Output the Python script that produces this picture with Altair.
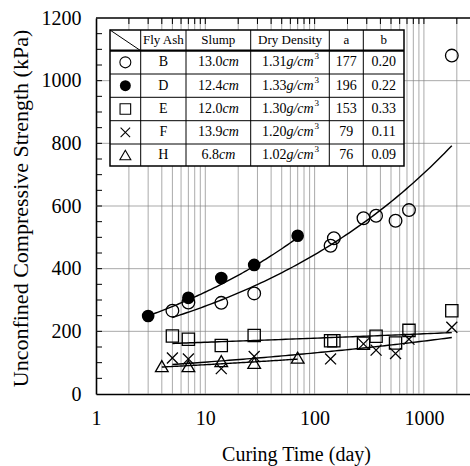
import altair as alt
import numpy as np
import pandas as pd

# Unconfined compressive strength (kPa) against curing time (days) per fly ash
b_days = [5, 7, 14, 28, 140, 150, 280, 365, 550, 730, 1800]
b_kpa = [266, 292, 291, 321, 473, 497, 561, 569, 553, 587, 1080]
d_days = [3, 7, 14, 28, 70]
d_kpa = [249, 307, 370, 412, 505]
e_days = [5, 7, 14, 28, 140, 150, 280, 365, 550, 730, 1800]
e_kpa = [185, 175, 155, 187, 170, 170, 162, 184, 163, 203, 266]
f_days = [5, 7, 14, 28, 140, 280, 365, 550, 730, 1800]
f_kpa = [115, 112, 81, 120, 112, 160, 140, 129, 175, 213]
h_days = [4, 7, 14, 28, 70]
h_kpa = [89, 89, 105, 99, 116]

# Table of mixes
fly_ash = ["B", "D", "E", "F", "H"]
slump = ["13.0", "12.4", "12.0", "13.9", "6.8"]
density = ["1.31", "1.33", "1.30", "1.20", "1.02"]
a_text = ["177", "196", "153", "79", "76"]
b_text = ["0.20", "0.22", "0.33", "0.11", "0.09"]

# Power-law fits q = a * t^b and the span of days each fit covers
fit_a = [177, 196, 153, 79, 76]
fit_b = [0.20, 0.22, 0.033, 0.11, 0.09]
fit_start = [5, 3, 5, 5, 4]
fit_end = [1800, 70, 1800, 1800, 70]

x_ticks = [1, 10, 100, 1000]
y_ticks = [0, 200, 400, 600, 800, 1000, 1200]

W, H = 374, 376
FONT = "Liberation Serif"
X_SHAPE = "M-1,-1L1,1M-1,1L1,-1"
shapes = ["circle", "circle", "square", X_SHAPE, "triangle-up"]
filled = [False, True, False, False, False]
sizes = [160, 160, 150, 120, 160]

xscale = alt.Scale(type="log", domain=[1, 2640], nice=False)
yscale = alt.Scale(domain=[0, 1200], nice=False)
xaxis = alt.Axis(values=x_ticks, format="d", grid=False, ticks=False,
                 domainColor="black", domainWidth=1.6, labelFont=FONT,
                 labelFontSize=20, labelColor="black", labelPadding=14,
                 labelFlush=False, labelOverlap=False, labelBound=False,
                 title="Curing Time (day)", titleFont=FONT, titleFontSize=20,
                 titleFontWeight="normal", titleColor="black",
                 titleX=200, titleY=66, titleBaseline="alphabetic")
yaxis = alt.Axis(values=y_ticks, format="d", grid=False, ticks=False,
                 domainColor="black", domainWidth=1.6, labelFont=FONT,
                 labelFontSize=20, labelColor="black", labelPadding=15,
                 title="Unconfined Compressive Strength (kPa)", titleFont=FONT,
                 titleFontSize=22, titleFontWeight="normal", titleColor="black",
                 titleX=-76, titleY=H / 2 + 2, titleAngle=270,
                 titleBaseline="middle", titleAlign="center")
X = alt.X("t:Q", scale=xscale, axis=xaxis)
Y = alt.Y("v:Q", scale=yscale, axis=yaxis)

# Log grid: every integer multiple inside each decade
grid_t = [m * 10 ** k for k in range(4) for m in range(1, 10) if m * 10 ** k <= 2000]
grid_t = [g for g in grid_t if g > 1]
minor_v = list(range(50, 1200, 50))

vgrid = alt.Chart(pd.DataFrame({"t": grid_t})).mark_rule(
    color="#858585", strokeWidth=0.7).encode(x=X)
hgrid = alt.Chart(pd.DataFrame({"v": y_ticks[1:-1]})).mark_rule(
    color="#858585", strokeWidth=0.7).encode(y=Y)
left_ticks = alt.Chart(pd.DataFrame({"v": minor_v})).mark_rule(
    color="black", strokeWidth=1).encode(y=Y, x=alt.value(0), x2=alt.value(6))
top_ticks = alt.Chart(pd.DataFrame({"t": grid_t})).mark_rule(
    color="black", strokeWidth=1).encode(x=X, y=alt.value(0), y2=alt.value(6))
top_frame = alt.Chart(pd.DataFrame({"t": [1]})).mark_rule(
    color="black", strokeWidth=1.6).encode(
    x=alt.value(0), x2=alt.value(W), y=alt.value(0))

# Fitted curves
curve_rows = []
for name, a, b, t0, t1 in zip(fly_ash, fit_a, fit_b, fit_start, fit_end):
    for t in np.logspace(np.log10(t0), np.log10(t1), 80):
        curve_rows.append({"s": name, "t": t, "v": a * t ** b})
curves = alt.Chart(pd.DataFrame(curve_rows)).mark_line(
    color="black", strokeWidth=1.4).encode(x=X, y=Y, detail="s:N")

series = [(b_days, b_kpa), (d_days, d_kpa), (e_days, e_kpa),
          (f_days, f_kpa), (h_days, h_kpa)]
point_layers = []
for (days, kpa), shp, fl, sz in zip(series, shapes, filled, sizes):
    df = pd.DataFrame({"t": days, "v": kpa})
    point_layers.append(alt.Chart(df).mark_point(
        shape=shp, filled=fl, size=sz, color="black", opacity=1,
        strokeWidth=1.3).encode(x=X, y=Y))

# Table inside the plot (pixel layout relative to the plot's top-left)
col_edges = [14, 44.7, 90, 154.7, 233.3, 267.3, 308]
row_edges = [12, 32.7, 56, 79.3, 102.7, 126, 148]
col_mid = [(col_edges[i] + col_edges[i + 1]) / 2 for i in range(6)]
row_mid = [(row_edges[i] + row_edges[i + 1]) / 2 for i in range(6)]
PX = lambda f: alt.X(f, scale=None, axis=None)
PY = lambda f: alt.Y(f, scale=None, axis=None)

table_bg = alt.Chart(pd.DataFrame({
    "x0": [col_edges[0]], "x1": [col_edges[-1]],
    "y0": [row_edges[0]], "y1": [row_edges[-1]]})).mark_rect(
    fill="white", stroke="black", strokeWidth=1.5).encode(
    x=PX("x0:Q"), x2="x1", y=PY("y0:Q"), y2="y1")

hl = pd.DataFrame({"x0": col_edges[0], "x1": col_edges[-1],
                   "y0": row_edges[1:-1], "w": [2.2, 1, 1, 1, 1]})
table_h = alt.Chart(hl).mark_rule(color="black").encode(
    x=PX("x0:Q"), x2="x1", y=PY("y0:Q"),
    strokeWidth=alt.StrokeWidth("w:Q", scale=None, legend=None))
vl = pd.DataFrame({"x0": col_edges[1:-1], "y0": row_edges[0], "y1": row_edges[-1]})
table_v = alt.Chart(vl).mark_rule(color="black", strokeWidth=1).encode(
    x=PX("x0:Q"), y=PY("y0:Q"), y2="y1")
diag = alt.Chart(pd.DataFrame({"x0": [col_edges[0]], "x1": [col_edges[1]],
                               "y0": [row_edges[0]], "y1": [row_edges[1]]})).mark_rule(
    color="black", strokeWidth=1).encode(x=PX("x0:Q"), x2="x1", y=PY("y0:Q"), y2="y1")

header = ["Fly Ash", "Slump", "Dry Density", "a", "b"]
head_df = pd.DataFrame({"x": col_mid[1:], "y": row_mid[0], "label": header})
table_head = alt.Chart(head_df).mark_text(
    font=FONT, fontSize=13, color="black", baseline="middle").encode(
    x=PX("x:Q"), y=PY("y:Q"), text="label:N")

# Rough Times glyph widths (em) for aligning number + italic unit
GW = {".": 0.25, "/": 0.278, "c": 0.444, "m": 0.722, "g": 0.5}
def em(s):
    return sum(GW.get(ch, 0.5) for ch in s)

FS = 14
plain_rows, ital_rows, sup_rows = [], [], []
for i in range(5):
    y = row_mid[i + 1]
    plain_rows.append({"x": col_mid[1], "y": y, "label": fly_ash[i], "al": "center"})
    plain_rows.append({"x": col_mid[4], "y": y, "label": a_text[i], "al": "center"})
    plain_rows.append({"x": col_mid[5], "y": y, "label": b_text[i], "al": "center"})
    # slump: number then italic cm
    wn, wu = em(slump[i]) * FS, em("cm") * FS
    sx = col_mid[2] - (wn + wu) / 2 + wn
    plain_rows.append({"x": sx, "y": y, "label": slump[i], "al": "right"})
    ital_rows.append({"x": sx, "y": y, "label": "cm"})
    # density: number, italic g/cm, superscript 3
    wn, wu, ws = em(density[i]) * FS, em("g/cm") * FS, 0.5 * 9
    sx = col_mid[3] - (wn + wu + ws) / 2 + wn
    plain_rows.append({"x": sx, "y": y, "label": density[i], "al": "right"})
    ital_rows.append({"x": sx, "y": y, "label": "g/cm"})
    sup_rows.append({"x": sx + wu + 1, "y": y - 6, "label": "3"})

plain_df = pd.DataFrame(plain_rows)
table_plain = []
for al in ["center", "right"]:
    table_plain.append(alt.Chart(plain_df[plain_df["al"] == al]).mark_text(
        font=FONT, fontSize=FS, color="black", baseline="middle", align=al).encode(
        x=PX("x:Q"), y=PY("y:Q"), text="label:N"))
table_ital = alt.Chart(pd.DataFrame(ital_rows)).mark_text(
    font=FONT, fontSize=FS, fontStyle="italic", color="black",
    baseline="middle", align="left").encode(x=PX("x:Q"), y=PY("y:Q"), text="label:N")
table_sup = alt.Chart(pd.DataFrame(sup_rows)).mark_text(
    font=FONT, fontSize=9, color="black", baseline="middle", align="left").encode(
    x=PX("x:Q"), y=PY("y:Q"), text="label:N")

table_marks = []
for i, (shp, fl, sz) in enumerate(zip(shapes, filled, sizes)):
    df = pd.DataFrame({"x": [col_mid[0]], "y": [row_mid[i + 1]]})
    table_marks.append(alt.Chart(df).mark_point(
        shape=shp, filled=fl, size=sz * 0.75, color="black", opacity=1,
        strokeWidth=1.1).encode(x=PX("x:Q"), y=PY("y:Q")))

chart = alt.layer(
    vgrid, hgrid, left_ticks, top_ticks, top_frame, curves, *point_layers,
    table_bg, table_h, table_v, diag, table_head, *table_plain, table_ital,
    table_sup, *table_marks
).properties(
    width=W, height=H,
    autosize=alt.AutoSizeParams(type="none"),
    padding={"left": 96, "top": 18, "right": 0, "bottom": 72},
    background="white",
).configure_view(stroke=None).configure_axis(
    labelFont=FONT, titleFont=FONT
).configure_text(font=FONT)

chart.save("out.html", embed_options={"renderer": "svg", "actions": False})
